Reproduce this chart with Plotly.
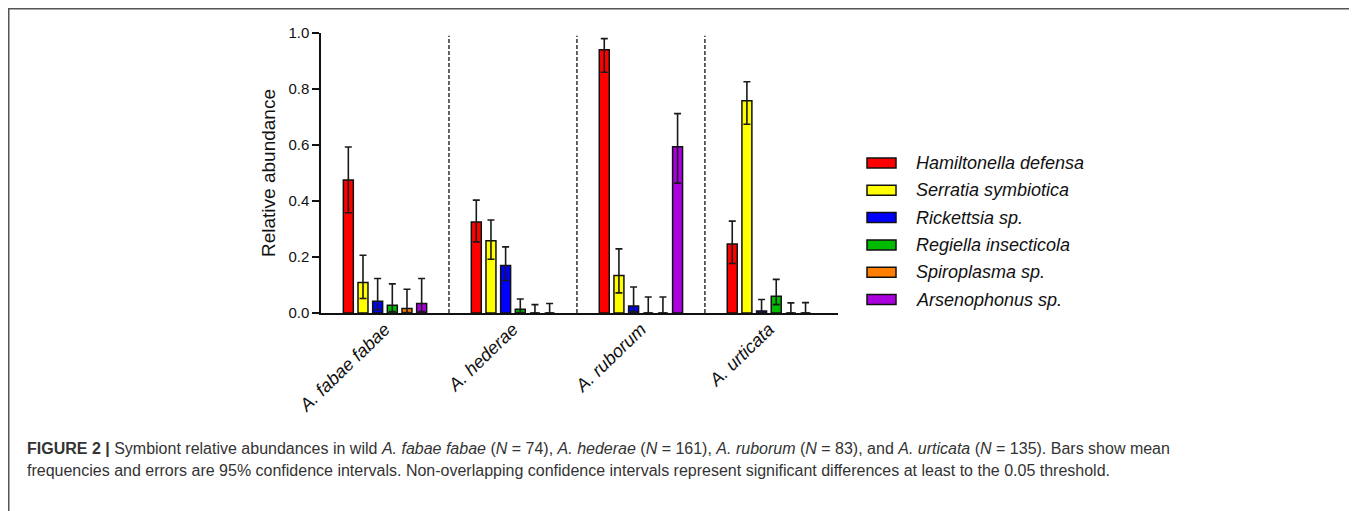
import plotly.graph_objects as go

# ---------------- data ----------------
groups = ["A. fabae fabae", "A. hederae", "A. ruborum", "A. urticata"]
symbionts = ["Hamiltonella defensa", "Serratia symbiotica", "Rickettsia sp.",
             "Regiella insecticola", "Spiroplasma sp.", "Arsenophonus sp."]
colors = ["#ff0000", "#ffff00", "#0000ff", "#00bb00", "#ff8000", "#aa00e0"]

hamiltonella_mean = [0.475, 0.325, 0.940, 0.246]
hamiltonella_up = [0.593, 0.403, 0.980, 0.328]
hamiltonella_lo = [0.358, 0.254, 0.860, 0.177]

serratia_mean = [0.109, 0.258, 0.134, 0.758]
serratia_up = [0.206, 0.332, 0.229, 0.826]
serratia_lo = [0.052, 0.192, 0.072, 0.674]

rickettsia_mean = [0.042, 0.170, 0.025, 0.007]
rickettsia_up = [0.123, 0.236, 0.093, 0.048]
rickettsia_lo = [0.012, 0.116, 0.005, 0.000]

regiella_mean = [0.028, 0.013, 0.000, 0.060]
regiella_up = [0.104, 0.050, 0.057, 0.120]
regiella_lo = [0.005, 0.002, 0.000, 0.030]

spiroplasma_mean = [0.016, 0.000, 0.000, 0.000]
spiroplasma_up = [0.085, 0.030, 0.057, 0.036]
spiroplasma_lo = [0.002, 0.000, 0.000, 0.000]

arsenophonus_mean = [0.034, 0.000, 0.594, 0.000]
arsenophonus_up = [0.123, 0.034, 0.712, 0.037]
arsenophonus_lo = [0.005, 0.000, 0.464, 0.000]

y_ticks = [0.0, 0.2, 0.4, 0.6, 0.8, 1.0]

caption_line1 = ("<b>FIGURE 2 |</b> Symbiont relative abundances in wild <i>A. fabae fabae</i> "
                 "(<i>N</i> = 74), <i>A. hederae</i> (<i>N</i> = 161), <i>A. ruborum</i> "
                 "(<i>N</i> = 83), and <i>A. urticata</i> (<i>N</i> = 135). Bars show mean")
caption_line2 = ("frequencies and errors are 95% confidence intervals. Non-overlapping confidence "
                 "intervals represent significant differences at least to the 0.05 threshold.")

series = [
    (hamiltonella_mean, hamiltonella_up, hamiltonella_lo),
    (serratia_mean, serratia_up, serratia_lo),
    (rickettsia_mean, rickettsia_up, rickettsia_lo),
    (regiella_mean, regiella_up, regiella_lo),
    (spiroplasma_mean, spiroplasma_up, spiroplasma_lo),
    (arsenophonus_mean, arsenophonus_up, arsenophonus_lo),
]

# ---------------- layout geometry ----------------
# the page body has an 8px margin, so the figure starts at (8, 8) on the page
OFF = 8
W, H = 1357 - OFF, 511 - OFF
ML, MT = 321 - OFF, 33 - OFF
PLOT_R, PLOT_B = 838 - OFF, 313 - OFF
MR, MB = W - PLOT_R, H - PLOT_B
PW = W - ML - MR
PH = H - MT - MB


def px(x):
    """page pixel x -> paper coordinate"""
    return (x - OFF - ML) / PW


def py(y):
    """page pixel y -> paper coordinate"""
    return (H - MB - (y - OFF)) / PH


FONT = "Arial, Liberation Sans, Helvetica, sans-serif"

fig = go.Figure()
for name, col, (m, up, lo) in zip(symbionts, colors, series):
    fig.add_trace(go.Bar(
        x=list(range(len(groups))), y=m, name=name,
        marker=dict(color=col, line=dict(color="#111111", width=1.5)),
        error_y=dict(type="data", symmetric=False,
                     array=[u - v for u, v in zip(up, m)],
                     arrayminus=[v - l for v, l in zip(m, lo)],
                     color="#1a1a1a", thickness=1.6, width=3.5),
        showlegend=False,
    ))

shapes = []
# dashed separators between groups
for b in [0.5, 1.5, 2.5]:
    shapes.append(dict(type="line", xref="x", yref="y", x0=b, x1=b, y0=0, y1=0.99,
                       line=dict(color="#333333", width=1.5, dash="4px,2px")))

# custom legend swatches + labels
annotations = []
row0, step = 163, 27.3
for i, (name, col) in enumerate(zip(symbionts, colors)):
    yc = row0 + i * step
    shapes.append(dict(type="rect", xref="paper", yref="paper",
                       x0=px(867), x1=px(896), y0=py(yc + 5), y1=py(yc - 5),
                       fillcolor=col, line=dict(color="#111111", width=1.5)))
    annotations.append(dict(text="<i>" + name + "</i>", xref="paper", yref="paper",
                            x=px(914), y=py(yc), xanchor="left", yanchor="middle",
                            showarrow=False, font=dict(family=FONT, size=18, color="#111111")))

# outer frame
shapes.append(dict(type="rect", xref="paper", yref="paper",
                   x0=px(8.75), x1=px(1355.5), y0=py(540), y1=py(8.75),
                   line=dict(color="#555555", width=1.5), fillcolor="rgba(0,0,0,0)", layer="below"))

# caption
for txt, yc in [(caption_line1, 448), (caption_line2, 470)]:
    annotations.append(dict(text=txt, xref="paper", yref="paper", x=px(25), y=py(yc),
                            xanchor="left", yanchor="middle", showarrow=False, align="left",
                            font=dict(family=FONT, size=16, color="#333333")))

fig.update_layout(
    width=W, height=H,
    margin=dict(l=ML, r=MR, t=MT, b=MB, autoexpand=False),
    paper_bgcolor="white", plot_bgcolor="white",
    barmode="group", bargap=0.3125, bargroupgap=0.32,
    font=dict(family=FONT, color="#111111"),
    shapes=shapes, annotations=annotations,
    xaxis=dict(range=[-0.5, 3.54], tickmode="array", tickvals=list(range(len(groups))),
               ticktext=["<i>" + g + "</i>" for g in groups], tickangle=-44,
               tickfont=dict(size=18, family=FONT, color="#111111"),
               ticklabelstandoff=-3,
               showline=True, linecolor="#111111", linewidth=1.5,
               ticks="", showgrid=False, zeroline=False),
    yaxis=dict(range=[0, 1.0], tickvals=y_ticks, tickformat=".1f",
               ticks="outside", ticklen=7, tickwidth=1.5, tickcolor="#111111",
               tickfont=dict(size=15, family=FONT, color="#111111"),
               showline=True, linecolor="#111111", linewidth=1.5,
               showgrid=False, zeroline=False,
               title=dict(text="Relative abundance", font=dict(size=19, family=FONT, color="#111111"),
                          standoff=8)),
)

fig.write_html("out.html")
